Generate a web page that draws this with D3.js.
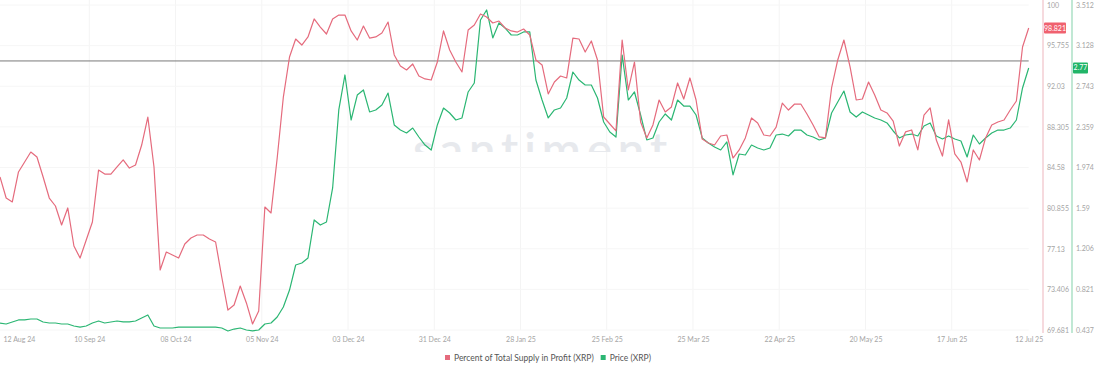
<!DOCTYPE html>
<html>
<head>
<meta charset="utf-8">
<script src="https://cdn.jsdelivr.net/npm/d3@7"></script>
<style>
  body { margin: 0; background: #fff; }
  svg { display: block; font-family: Lato, "Open Sans", sans-serif; }
</style>
</head>
<body>
<svg id="chart" width="1100" height="372"></svg>
<script>
// daily points, every 2nd day, 12 Aug 2024 -> 12 Jul 2025
var dates = d3.timeDay.range(new Date(2024, 7, 12), new Date(2025, 6, 13), 2);

var profitPct = [
  83.71, 81.78, 81.42, 84.17, 85.08, 86.00, 85.54, 83.71, 81.78, 81.05,
  79.31, 80.87, 77.38, 76.28, 77.93, 79.58, 84.35, 83.98, 83.98, 84.63,
  85.27, 84.53, 84.81, 86.64, 89.21, 84.63, 75.18, 76.83, 76.56, 76.28,
  77.57, 78.12, 78.39, 78.39, 78.02, 77.75, 74.54, 71.51, 71.97, 73.71,
  72.16, 70.23, 71.42, 80.96, 80.41, 85.45, 91.04, 94.71, 96.36, 95.81,
  96.55, 98.20, 97.46, 96.82, 98.20, 98.56, 98.56, 97.10, 96.27, 97.55,
  96.45, 96.55, 96.91, 97.92, 94.90, 93.89, 93.52, 94.07, 92.97, 92.70,
  92.60, 94.25, 97.10, 95.35, 94.25, 93.34, 97.19, 97.65, 98.66, 98.38,
  97.83, 98.01, 97.37, 97.10, 97.00, 97.28, 96.73, 94.44, 93.98, 91.32,
  92.42, 92.97, 92.79, 96.45, 96.36, 95.17, 96.18, 94.44, 89.21, 88.57,
  87.93, 96.27, 91.69, 94.25, 88.75, 87.29, 88.48, 90.77, 89.67, 90.13,
  92.33, 90.86, 92.79, 90.77, 87.19, 86.83, 86.64, 87.47, 87.56, 85.45,
  86.19, 87.29, 89.12, 88.66, 87.56, 87.47, 88.29, 90.49, 89.85, 90.40,
  90.40, 89.49, 88.48, 87.38, 87.29, 91.87, 94.44, 96.27, 93.80, 90.77,
  90.86, 92.42, 91.23, 89.85, 89.58, 88.84, 86.55, 87.84, 88.02, 86.19,
  89.39, 90.04, 87.10, 85.63, 88.94, 85.82, 85.08, 83.25, 86.19, 85.27,
  87.29, 88.48, 88.75, 88.94, 89.85, 90.68, 95.63, 97.37
];

var price = [
  0.503, 0.494, 0.513, 0.532, 0.532, 0.541, 0.541, 0.513, 0.503, 0.503,
  0.494, 0.494, 0.475, 0.465, 0.475, 0.503, 0.522, 0.503, 0.513, 0.522,
  0.513, 0.513, 0.522, 0.551, 0.579, 0.475, 0.456, 0.456, 0.456, 0.465,
  0.465, 0.465, 0.465, 0.465, 0.465, 0.465, 0.456, 0.428, 0.446, 0.456,
  0.437, 0.428, 0.437, 0.494, 0.503, 0.560, 0.655, 0.815, 1.052, 1.071,
  1.118, 1.478, 1.430, 1.459, 1.781, 2.519, 2.850, 2.424, 2.660, 2.708,
  2.500, 2.519, 2.566, 2.679, 2.377, 2.329, 2.301, 2.348, 2.263, 2.187,
  2.140, 2.377, 2.537, 2.490, 2.424, 2.443, 2.689, 2.774, 3.370, 3.465,
  3.200, 3.342, 3.294, 3.228, 3.228, 3.257, 3.257, 2.802, 2.613, 2.443,
  2.519, 2.537, 2.632, 2.878, 2.802, 2.755, 2.755, 2.632, 2.405, 2.310,
  2.263, 3.039, 2.613, 2.689, 2.471, 2.235, 2.254, 2.405, 2.481, 2.424,
  2.613, 2.556, 2.556, 2.471, 2.254, 2.206, 2.168, 2.140, 2.216, 1.904,
  2.102, 2.093, 2.187, 2.159, 2.140, 2.159, 2.282, 2.291, 2.273, 2.329,
  2.329, 2.282, 2.263, 2.235, 2.254, 2.490, 2.594, 2.698, 2.500, 2.452,
  2.500, 2.471, 2.443, 2.424, 2.396, 2.320, 2.254, 2.282, 2.291, 2.273,
  2.367, 2.396, 2.273, 2.244, 2.273, 2.244, 2.225, 2.074, 2.282, 2.197,
  2.254, 2.301, 2.329, 2.329, 2.348, 2.424, 2.727, 2.916
];

var profitTicks = [69.68, 73.405, 77.13, 80.855, 84.58, 88.305, 92.03, 95.755, 99.48];
var profitTickLabels = ["69.681", "73.406", "77.13", "80.855", "84.58", "88.305", "92.03", "95.755", "100"];
var priceTicks = [0.437, 0.821, 1.206, 1.59, 1.974, 2.359, 2.743, 3.128, 3.512];
var priceTickLabels = ["0.437", "0.821", "1.206", "1.59", "1.974", "2.359", "2.743", "3.128", "3.512"];

var dateTicks = [
  new Date(2024, 7, 12), new Date(2024, 8, 10), new Date(2024, 9, 8), new Date(2024, 10, 5),
  new Date(2024, 11, 3), new Date(2024, 11, 31), new Date(2025, 0, 28), new Date(2025, 1, 25),
  new Date(2025, 2, 25), new Date(2025, 3, 22), new Date(2025, 4, 20), new Date(2025, 5, 17),
  new Date(2025, 6, 12)
];

var latestLabels = ["98.821", "2.77"];
var refLevel = 94.35;   // horizontal drawn line, in profit % units

var series = [
  {name: "Percent of Total Supply in Profit (XRP)", values: profitPct, color: "#e56b7d"},
  {name: "Price (XRP)", values: price, color: "#2bb673"}
];

var svg = d3.select("#chart");
var plotRight = 1028.7;

var x = d3.scaleTime()
  .domain([dates[0], dates[dates.length - 1]])
  .range([0, plotRight]);
var yProfit = d3.scaleLinear().domain([69.68, 99.48]).range([330, 5]);
var yPrice = d3.scaleLinear().domain([0.437, 3.512]).range([330, 5]);

// faint grid
svg.append("g").selectAll("line")
  .data(dateTicks.slice(1, -1))
  .join("line")
  .attr("x1", d => x(d)).attr("x2", d => x(d))
  .attr("y1", 0).attr("y2", 330)
  .attr("stroke", "#f4f4f4");
svg.append("g").selectAll("line")
  .data(profitTicks)
  .join("line")
  .attr("x1", 0).attr("x2", plotRight)
  .attr("y1", d => yProfit(d)).attr("y2", d => yProfit(d))
  .attr("stroke", "#f6f6f6");

// watermark
svg.append("clipPath").attr("id", "wm")
  .append("rect").attr("x", 0).attr("y", 0).attr("width", 1100).attr("height", 152);
svg.append("text")
  .attr("clip-path", "url(#wm)")
  .attr("x", 543).attr("y", 166)
  .attr("text-anchor", "middle")
  .attr("font-size", 47)
  .attr("font-weight", 600)
  .attr("letter-spacing", 6)
  .attr("fill", "#e7e9ed")
  .text("santiment");

// reference line
svg.append("line")
  .attr("x1", 0).attr("x2", plotRight)
  .attr("y1", yProfit(refLevel)).attr("y2", yProfit(refLevel))
  .attr("stroke", "#7a7a7a").attr("stroke-width", 1);

// lines
var yFor = [yProfit, yPrice];
series.slice().reverse().forEach(function(s) {
  var yS = yFor[series.indexOf(s)];
  svg.append("path")
    .datum(s.values)
    .attr("fill", "none")
    .attr("stroke", s.color)
    .attr("stroke-width", 1.2)
    .attr("stroke-linejoin", "round")
    .attr("d", d3.line()
      .x(function(d, i) { return x(dates[i]); })
      .y(function(d) { return yS(d); }));
});

// x axis labels
var xAxis = svg.append("g")
  .attr("transform", "translate(0,333)")
  .call(d3.axisBottom(x).tickValues(dateTicks).tickSize(0).tickPadding(4)
    .tickFormat(d3.timeFormat("%d %b %y")));
xAxis.select(".domain").remove();
xAxis.selectAll("text")
  .attr("font-family", "Lato, sans-serif")
  .attr("font-size", 7)
  .attr("fill", "#a5a5a5");
xAxis.selectAll(".tick").filter(function(d, i) { return i === 0; })
  .select("text").attr("text-anchor", "start").attr("x", 3);

// right axes
function rightAxis(xPos, scale, ticks, labels, lineColor) {
  svg.append("line")
    .attr("x1", xPos).attr("x2", xPos)
    .attr("y1", 0).attr("y2", 333)
    .attr("stroke", lineColor).attr("stroke-width", 1.3);
  var g = svg.append("g")
    .attr("transform", "translate(" + xPos + ",0)")
    .call(d3.axisRight(scale).tickValues(ticks).tickSize(0).tickPadding(4)
      .tickFormat(function(d, i) { return labels[i]; }));
  g.select(".domain").remove();
  g.selectAll("text")
    .attr("font-family", "Lato, sans-serif")
    .attr("font-size", 7)
    .attr("fill", "#a5a5a5");
}
rightAxis(1043, yProfit, profitTicks, profitTickLabels, "#f2c6cd");
rightAxis(1072, yPrice, priceTicks, priceTickLabels, "#9fdcbd");

// latest value badges
var badgeX = [1044, 1073];
var badgeW = [22, 15];
series.forEach(function(s, i) {
  var yy = yFor[i](s.values[s.values.length - 1]);
  svg.append("rect")
    .attr("x", badgeX[i]).attr("y", yy - 5.5)
    .attr("width", badgeW[i]).attr("height", 11)
    .attr("rx", 1)
    .attr("fill", i === 0 ? "#f0616f" : "#21b568");
  svg.append("text")
    .attr("x", badgeX[i] + badgeW[i] / 2).attr("y", yy + 2.5)
    .attr("text-anchor", "middle")
    .attr("font-size", 7)
    .attr("fill", "#fff")
    .text(latestLabels[i]);
});

// legend
var legend = svg.append("g").attr("transform", "translate(445,358)");
var lx = 0;
series.forEach(function(s) {
  var item = legend.append("g").attr("transform", "translate(" + lx + ",0)");
  item.append("rect")
    .attr("x", 0).attr("y", -3).attr("width", 5).attr("height", 5)
    .attr("fill", s.color);
  var t = item.append("text")
    .attr("x", 9).attr("y", 2.5)
    .attr("font-size", 8.5)
    .attr("fill", "#555")
    .text(s.name);
  lx += 9 + t.node().getComputedTextLength() + 7;
});
</script>
</body>
</html>
